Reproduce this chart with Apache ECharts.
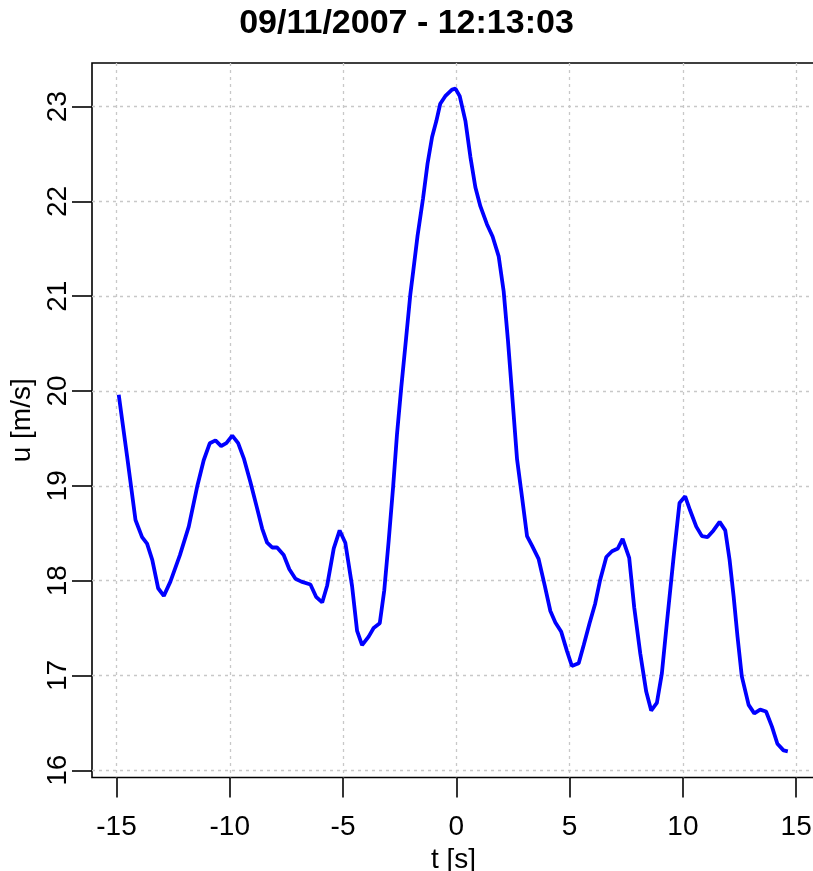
<!DOCTYPE html>
<html>
<head>
<meta charset="utf-8">
<script src="https://cdn.jsdelivr.net/npm/echarts@6/dist/echarts.min.js"></script>
<style>
  html, body { margin: 0; padding: 0; background: #ffffff; }
  #chart { width: 813px; height: 871px; }
</style>
</head>
<body>
<div id="chart"></div>
<script>
// Wind speed record around the gust peak
const timeSec = [
  -14.90, -14.53, -14.16, -13.87, -13.65, -13.42, -13.16, -12.91, -12.62, -12.20,
  -11.81, -11.44, -11.15, -10.88, -10.63, -10.38, -10.15, -9.89, -9.63, -9.38,
  -9.09, -8.79, -8.57, -8.35, -8.13, -7.91, -7.62, -7.37, -7.10, -6.84,
  -6.44, -6.19, -5.92, -5.70, -5.41, -5.15, -4.90, -4.60, -4.38, -4.16,
  -3.87, -3.65, -3.38, -3.18, -2.99, -2.79, -2.62, -2.43, -2.22, -2.03,
  -1.91, -1.71, -1.47, -1.27, -1.07, -0.88, -0.71, -0.49, -0.19, -0.04,
  0.15, 0.40, 0.62, 0.84, 1.06, 1.35, 1.60, 1.87, 2.09, 2.28,
  2.46, 2.68, 2.90, 3.12, 3.34, 3.63, 3.90, 4.15, 4.37, 4.63,
  4.88, 5.10, 5.40, 5.62, 5.88, 6.13, 6.35, 6.62, 6.87, 7.13,
  7.34, 7.63, 7.85, 8.12, 8.38, 8.60, 8.85, 9.07, 9.29, 9.59,
  9.85, 10.10, 10.32, 10.59, 10.84, 11.09, 11.35, 11.62, 11.87, 12.06,
  12.24, 12.41, 12.60, 12.90, 13.15, 13.41, 13.67, 13.93, 14.17, 14.44,
  14.63
];
const speed = [
  19.96, 19.31, 18.64, 18.46, 18.39, 18.22, 17.92, 17.84, 17.99, 18.27,
  18.57, 18.99, 19.27, 19.45, 19.48, 19.42, 19.45, 19.53, 19.45, 19.29,
  19.04, 18.76, 18.55, 18.40, 18.35, 18.35, 18.27, 18.12, 18.02, 17.99,
  17.96, 17.83, 17.77, 17.95, 18.34, 18.53, 18.40, 17.94, 17.47, 17.32,
  17.41, 17.50, 17.55, 17.90, 18.41, 18.99, 19.54, 20.04, 20.55, 21.02,
  21.25, 21.64, 22.03, 22.40, 22.68, 22.85, 23.03, 23.11, 23.18, 23.19,
  23.11, 22.85, 22.47, 22.15, 21.95, 21.76, 21.63, 21.42, 21.05, 20.53,
  19.97, 19.28, 18.88, 18.47, 18.37, 18.23, 17.95, 17.68, 17.56, 17.46,
  17.26, 17.10, 17.13, 17.32, 17.55, 17.76, 18.01, 18.25, 18.31, 18.34,
  18.44, 18.24, 17.72, 17.23, 16.83, 16.63, 16.71, 17.02, 17.55, 18.25,
  18.82, 18.89, 18.74, 18.57, 18.47, 18.46, 18.53, 18.62, 18.53, 18.22,
  17.83, 17.41, 16.99, 16.69, 16.60, 16.64, 16.62, 16.46, 16.28, 16.21,
  16.20
];
const xTicks = [-15, -10, -5, 0, 5, 10, 15];
const yTicks = [16, 17, 18, 19, 20, 21, 22, 23];
const titleText = '09/11/2007 - 12:13:03';
const xName = 't [s]';
const yName = 'u [m/s]';

const FONT = "'Liberation Sans', Arial, sans-serif";
const gridLine = { show: true, lineStyle: { color: '#c8c8c8', width: 1.3, type: [3, 4] } };

const chart = echarts.init(document.getElementById('chart'), null, { renderer: 'canvas' });
chart.setOption({
  backgroundColor: '#ffffff',
  animation: false,
  title: {
    text: titleText,
    left: 'center',
    top: 2,
    textStyle: { fontFamily: FONT, fontSize: 34, fontWeight: 'bold', color: '#000' }
  },
  grid: {
    left: 92, top: 63, width: 723, height: 714.5,
    show: true, borderColor: '#000', borderWidth: 1.6, backgroundColor: 'transparent',
    containLabel: false,
    outerBoundsMode: 'none'
  },
  xAxis: {
    type: 'value',
    min: -16.08, max: 15.83,
    name: xName,
    nameLocation: 'middle',
    nameGap: 62,
    nameTextStyle: { fontFamily: FONT, fontSize: 28, color: '#000' },
    axisLine: { show: false, onZero: false },
    axisTick: { show: true, inside: false, length: 20, customValues: xTicks,
                lineStyle: { color: '#000', width: 1.6 } },
    axisLabel: { customValues: xTicks, fontFamily: FONT, fontSize: 28, color: '#000', margin: 36 },
    splitLine: gridLine
  },
  yAxis: {
    type: 'value',
    min: 15.924, max: 23.46,
    name: yName,
    nameLocation: 'middle',
    nameGap: 43,
    nameTextStyle: { fontFamily: FONT, fontSize: 28, color: '#000' },
    axisLine: { show: false, onZero: false },
    axisTick: { show: true, inside: false, length: 20, customValues: yTicks,
                lineStyle: { color: '#000', width: 1.6 } },
    axisLabel: { customValues: yTicks, rotate: 90, fontFamily: FONT, fontSize: 28, color: '#000', margin: 20 },
    splitLine: gridLine
  },
  series: [{
    type: 'line',
    data: timeSec.map((t, i) => [t, speed[i]]),
    showSymbol: false,
    smooth: false,
    lineStyle: { color: '#0000ff', width: 3.8 },
    clip: true
  }]
});
</script>
</body>
</html>
